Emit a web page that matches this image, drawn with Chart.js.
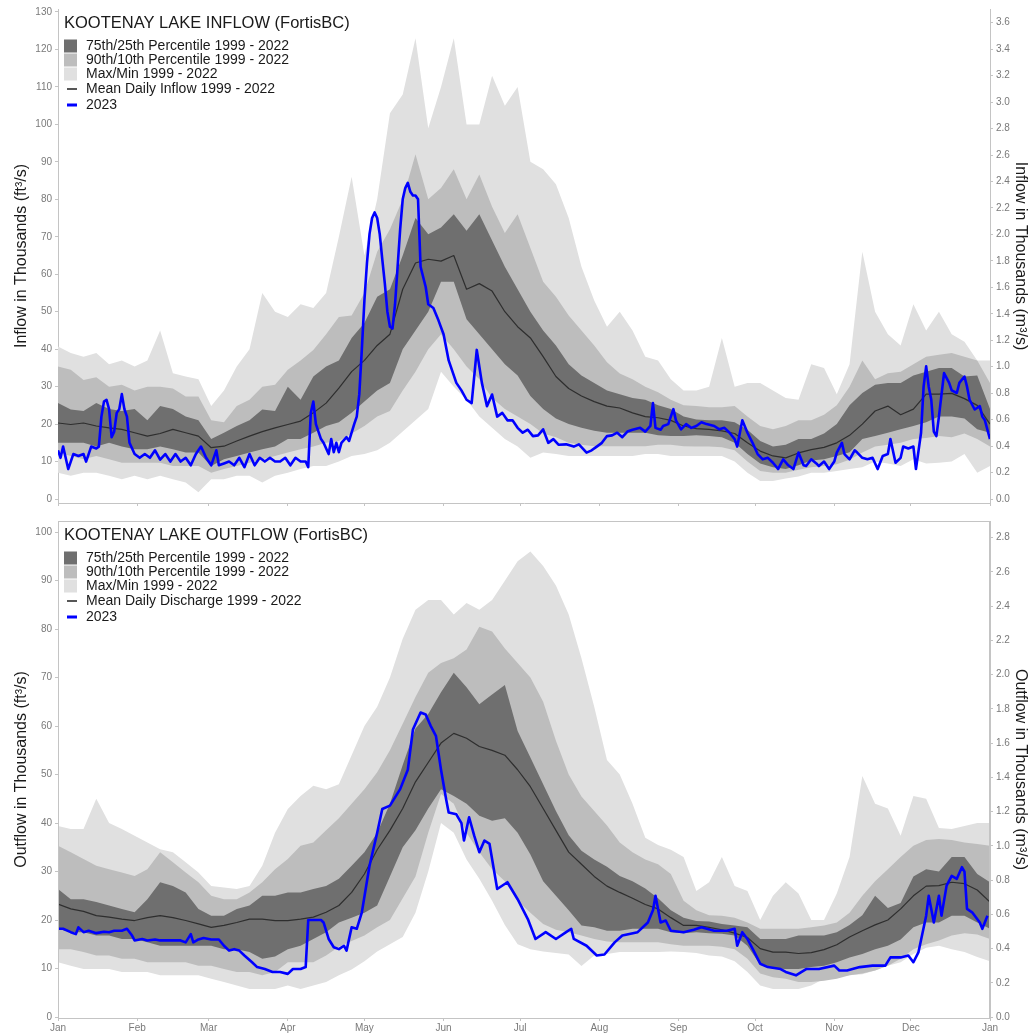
<!DOCTYPE html>
<html><head><meta charset="utf-8">
<script src="https://cdn.jsdelivr.net/npm/chart.js@4.4.0/dist/chart.umd.min.js"></script>
<style>
html,body{margin:0;padding:0;background:#fff;width:1034px;height:1035px;overflow:hidden;}
#c1{position:absolute;left:0;top:0;}
#c2{position:absolute;left:0;top:512px;}
</style></head><body>
<canvas id="c1" width="1034" height="512"></canvas>
<canvas id="c2" width="1034" height="523"></canvas>
<script>
// ---------- categories / ticks ----------
const monthStarts = [0,31,59,90,120,151,181,212,243,273,304,334,365];
const monthLabels = ['Jan','Feb','Mar','Apr','May','Jun','Jul','Aug','Sep','Oct','Nov','Dec','Jan'];
const inflowLeftTicks = [0,10,20,30,40,50,60,70,80,90,100,110,120,130];
const inflowRightTicks = [0,0.2,0.4,0.6,0.8,1.0,1.2,1.4,1.6,1.8,2.0,2.2,2.4,2.6,2.8,3.0,3.2,3.4,3.6];
const outflowLeftTicks = [0,10,20,30,40,50,60,70,80,90,100];
const outflowRightTicks = [0,0.2,0.4,0.6,0.8,1.0,1.2,1.4,1.6,1.8,2.0,2.2,2.4,2.6,2.8];
const legendNames = ['75th/25th Percentile 1999 - 2022','90th/10th Percentile 1999 - 2022','Max/Min 1999 - 2022'];
const inflowMeanName = 'Mean Daily Inflow 1999 - 2022';
const outflowMeanName = 'Mean Daily Discharge 1999 - 2022';
const yearName = '2023';

// day-of-year sample positions for the historical bands
const bandDays = [0,5,10,15,20,25,30,35,40,45,50,55,60,65,70,75,80,85,90,95,100,105,110,115,120,125,130,135,140,145,150,155,160,165,170,175,180,185,190,195,200,205,210,215,220,225,230,235,240,245,250,255,260,265,270,275,280,285,290,295,300,305,310,315,320,325,330,335,340,345,350,355,360,365];

// ---------- INFLOW (thousands ft3/s) ----------
const inMax = [40.7,39,38,39,36,37,35.4,37,45,33.6, 32.7,32,24.8,29,35.4,40,55,50,48.6,52, 51,55,70,86,65,80,103,108,123,99, 110,123,100,100,113,105,110,90,88,84, 75,62,53,46,50,45,38,37,32,29, 29,30,43,30,31,31,29,27,26.5,36, 35,28,36,66,50,44,41,52,45,50, 44,42,37,37];
const inP90 = [35.4,34.5,31.8,32.5,30,30.5,29,30,30,29.5, 27.4,27.4,21,20.5,24.8,26.5,30,30.5,34.5,37, 39.8,44,48.6,49,55,66,72,80,92,80, 83,88,80,86.6,78,71,76,67,58,54, 49,45,41,36.5,33.5,32,30,28.5,26.5,25, 24.8,24.5,24.5,24.8,22,19.5,18.6,19.5,21,21, 22.5,25,30,37,32,33.6,34,36,38,38.5, 39,38,37,31];
const inP75 = [25.6,23.9,23.5,25.6,24,23.5,24,21,24.8,24, 22,21,16,17.7,19.5,21,23.9,23.5,30,26.5, 32.7,35.4,37,43,47,54,56,65,75,70.7, 72.5,76,71.6,76,69,62,56,50,45,41, 36,33,31,29,28,27,26.5,25,24,22, 21.2,21,21,20.5,18.5,15.5,14,14.5,16,16, 17.5,20,25,28.3,30.5,31,31,33,34,35, 35,32.7,33,24];
const inMean = [20.3,19.9,20.3,19.5,19,18.6,17.7,16.8,17.5,18.6, 17.7,16.8,13.7,14.1,15.5,16.8,18,19,19.9,20.8, 23,25.6,29.6,34,37,41,44,56,63,64, 63.5,65,56,57.5,55.5,50,46,43,38,32.7, 29.5,27.5,26,24.8,24.3,23,22,21.7,21,19.5, 18.8,18.6,18.2,17.5,15,12.8,11.5,11,12.3,13.2, 13.8,15,17,20,23.5,24.8,22.5,24,28,28, 28.2,26.8,25,20];
const inP25 = [15,15,15,14,15,14,13.3,13.3,14,13.3, 12.4,12.4,8.8,10.6,11.5,12.4,13.3,14,16,16, 17.7,19.5,20.5,23,26,29,31,40,45,50, 58,58,48,44,40,36,33,27.5,24,21.5, 20,19,18.2,17.7,17.7,17.7,17.7,17,16.8,16.8, 17,16.8,16.5,15,12,9.5,8.5,8,9,10.3, 10.6,11.5,12.5,16,16.8,17.7,18.6,19.5,20.5,22, 22,21.5,18.6,17.7];
const inP10 = [12.4,11.5,10.6,11.5,10.6,9.7,9.7,9.7,9.7,8.8, 8.8,8.8,7,8,8.8,9.7,10.6,11.5,12.4,13.3, 14,15,15.5,17.5,19.5,22,23.5,29,34,40, 44,40,35.4,32,27,24,22,20,17.5,16.5, 15,14.5,14.1,14.1,14.1,14.1,14.1,14.5,14.5,14.1, 14,14,13.8,13,10,7.5,7,7,7.8,8.5, 8.8,9.3,10.5,12.4,14,14.5,15,16,16.3,16.8, 16.5,17.5,16,14];
const inMin = [7,6.2,7,7,6.2,5.3,6.2,5.3,6.2,5.3, 4.4,1.8,5.3,5.3,6.2,6.2,4.4,6.2,7,8, 8.8,8.8,10,11.5,12,13,15,18,21,24, 34,30,26.5,22,19,16,14,11,12.4,12, 11.5,11.5,11.5,11.5,11.5,11.5,12,12,11.5,11.5, 11.5,11.5,11.5,10,7,4.8,4.8,5.5,6,7, 7,7.5,8,8.5,10,9.5,8.8,10.6,9.5,9.7, 10,12,7,8.8];
const inDays2023 = [0,1,2,4,6,8,10,11,13,15,16,17,18,19,20,21,22,23,24,25,26,27,28,30,32,34,36,38,40,42,44,46,48,50,52,54,56,58,60,62,63,65,67,69,71,73,75,77,79,81,83,85,87,89,91,93,95,97,98,99,100,101,102,103,104,106,107,108,109,110,111,113,114,116,117,118,119,120,121,122,123,124,125,126,127,128,129,130,131,132,133,134,135,136,137,138,139,140,141,142,144,145,147,149,151,153,156,158,160,162,164,166,168,170,172,174,176,178,180,182,184,186,188,190,192,194,196,199,202,204,207,209,211,213,215,217,219,221,223,225,228,230,232,233,234,236,237,239,241,242,244,246,248,250,252,254,257,259,261,263,265,266,268,270,272,274,276,278,280,282,284,286,288,290,292,293,295,297,298,300,302,304,305,307,308,310,312,313,315,317,319,321,323,325,326,328,330,331,333,335,336,338,339,340,341,342,343,344,345,347,349,350,352,353,355,356,357,359,361,362,363,365];
const in2023 = [13,11,14,8,12,11.5,12,10,14,13.5,14,22,26,26.5,24,16.5,18,23,24,28,24,22,15,12,11,12,11,13,10.5,12,10,12,10,11,9,12,14,11,9,13,9,9.5,10,9,11,8.5,12,9,11,10,11,10,10,11,9,11,10,10,8.5,23,26,20,18,16,15,12,16,12.5,15,12.5,15,16.5,15.5,20,22,28,40,53,63,70.7,75,76.5,75,70.7,64,57.5,50,46,45.5,52,62,72,80,83,84.4,82,81,81,80,62,56.6,52,51,47.7,44,37,31,29,26.5,25.6,39.8,31,24.8,27.9,22,23,21,21,19,17.7,18.5,16.8,17,18.6,15,16,14.5,14.6,14,14.6,12.4,13,14,15,16.8,17,17.7,16.5,18,18.5,19,18,19.5,25.6,19,18.5,19.5,20,24,21,18.6,20,19,19.5,20.5,20,19.5,18.6,19,17.7,16,14,21,17.7,15,12,10.6,11,9.7,8,10.6,9,8,12.4,9,8.8,10.6,9.5,8.8,10,8,10,12.4,15,12,10.6,13,12.4,11,10.6,11,8,11.5,12,16,9.7,11,14,13.5,14,8,17.7,30,35.4,30,26.5,18,16.8,22,33.6,31,29,28.3,31,32.7,30,26.5,23.9,24.8,22,21,16];

// ---------- OUTFLOW (thousands ft3/s) ----------
const outMax = [39.4,38.8,38.8,45,40,38.8,37.4,36,34.6,34, 31.9,29.8,27,26.7,26.4,27,31.2,38,42.9,45.6, 47.7,47,48,54,60,64,70,78,84,86, 86,83,85.4,84,86,90,94,96,93,89, 83,74,64,53,50,44,37,35.5,34.5,33, 26,27.8,33,27,26,20,25,27.8,25.5,20, 20,25.5,33,49.7,44,43,37.4,45.6,45,39, 38.8,39.4,40,40];
const outP90 = [35.3,34,32.6,31.2,30.5,29.8,29.1,30.5,34,31.9, 29.8,27.8,25,24.3,24.3,25.7,27.8,30.5,32.6,35.3, 36,38.5,41,44,47,50.5,55,60.5,66,71, 73,74,75.8,80.5,79.5,76,73,70,65,57, 50,45.5,42.5,39.5,36,34,32.5,31.5,29.5,24, 22,21,20.9,20.5,19.5,18.2,18.2,18.2,18.2,18.5, 18.9,19.5,21.5,25,28,30.5,33,35.3,36.5,36.7, 36.5,36,35.7,35.3];
const outP75 = [26.4,24.3,24.3,23.7,23,22.3,21.6,24.3,27.8,27, 25.7,22.3,20.9,20.9,22.3,23,25,25,25.7,25.7, 26.4,27,28.5,31.2,34,38,44,52,59.5,62.5, 67,71,68,64.5,66.5,68.5,59,53.5,48,42.5, 37.5,34.3,32.5,31,29.1,28,26.5,24.5,22,20.5, 19.8,19.7,19.2,18.9,18.5,16.1,16.1,16.1,16.8,16.8, 16.8,17.5,19,21,25,22.5,23.5,29,30.5,30, 33,33,29.5,27.8];
const outMean = [23.3,22.3,21.8,20.9,20.6,20.2,19.9,20.5,20.9,20.5, 19.9,19.2,18.5,18.9,19.5,20.2,20.2,19.9,19.9,20.2, 20.6,21.6,23,25.7,29.5,34.5,38.5,43,48.5,52.5, 56.5,58.5,57.5,55.8,55,54,51,47.5,43,38.5, 34,31.5,29,27,25.7,24.5,23.2,22.3,20.5,18.9, 18.9,18.5,18,17.3,16.4,14.1,13.4,13.4,13.1,13.3, 13.9,14.9,16.5,17.8,19,20,22.3,25,27,27.1, 27.8,27.5,26.2,23.7];
const outP25 = [18.2,17.5,17.5,16.8,16.8,16.1,16.1,15.4,14.7,14.7, 14.7,14.7,14.7,14,14,13.4,12,12.5,14,14.7, 16.1,17.5,19.5,20.5,21.5,23,29,35,38.5,43, 47,45.6,44,41.5,40.5,41,38,33.5,28,25, 22,18.9,18.5,17.8,17.8,18.2,18.2,18.2,17.5,17.3, 17.5,17.3,17.2,16.8,14.7,10.8,10,9.9,9.9,10.3, 10.6,11.3,12.3,13,14,14.7,16,18.5,19.5,19.5, 20.9,20.9,19.5,18.2];
const outP10 = [14,14,13.4,12.7,12.7,12,12,11.3,11.3,11.3, 11.3,10.6,10.6,9.9,9.3,9.3,8.6,9.3,11.3,11.3, 11.3,12.7,14.5,15.7,16.8,18.5,20,24.5,29,38, 46,44,38,34,30.5,28,24,21.5,19.2,18, 17.5,16.8,16.1,15.6,15.4,15.4,15.4,15.4,15,14.7, 14.7,14.7,14.5,14,12,9,8.2,7.9,7.2,7.2, 7.5,7.9,8.6,9,9.6,10.6,12,14,15,15.8, 16.8,17.3,17,16.1];
const outMin = [11.3,10.6,9.9,9.9,9.9,9.3,9.3,9.3,8.6,8.6, 8.6,8.6,7.9,7.2,6.5,5.8,5.8,5.8,6.5,5.8, 6.5,7.2,8.6,9.8,11.5,13.5,15,16.5,21.5,30, 40,38,32.5,28.5,24,19,15,14,13.5,13.2, 12.9,10.5,12.7,13,13.4,13.4,13.4,13.4,13.5,13.4, 13.2,12.7,12.5,11.5,9.3,6.5,5.8,5.8,5.8,6.5, 7.9,8.2,8.6,8.8,9.6,10.6,11.3,13,14.3,14.7, 14,13.4,12.4,11.5];
const outDays2023 = [0,2,5,7,8,10,12,15,18,20,22,25,27,29,30,33,35,38,40,43,45,48,50,52,53,55,57,60,63,65,67,69,71,73,76,78,81,84,87,90,92,95,97,98,99,103,104,106,108,110,112,113,115,117,119,122,125,127,130,134,137,139,142,144,146,148,150,152,153,156,158,159,161,163,165,167,169,172,176,180,184,187,191,195,199,201,202,207,211,214,218,221,227,231,233,234,236,238,240,245,249,252,257,262,265,266,268,270,272,275,278,283,285,289,293,298,304,306,309,314,319,324,326,330,333,335,337,340,341,343,345,346,348,350,352,354,355,356,358,361,362,364];
const out2023 = [18.2,18.2,17.5,17.1,18.5,17.5,17.8,17.3,17.6,17.5,17.8,17.8,18.2,16.8,15.8,16.1,15.8,16,15.8,15.8,15.8,15.8,15.4,17.1,15.4,16,16.3,16,16,14.7,13.7,14,13.7,12.7,11.3,10.3,9.9,9.3,9.3,8.9,9.9,9.9,10.3,20,20,20,19.5,16.1,14.4,14,14.7,13.7,18.5,18.2,21.6,31.2,38,42.9,43.6,47,51,59.3,62.8,62.4,60,58,51,44.9,42.2,41.8,40,36.4,41.2,37.4,34,36.4,35.7,26.4,27.8,24.3,20.2,16.1,17.5,16.1,17.5,18.2,16.1,14.7,12.7,12.9,15.4,16.8,17.5,19.5,22,25,19.5,19.9,17.8,17.5,18,18.5,17.8,17.8,18.2,14.7,17.5,16.1,14.1,11,10.3,9.9,9.3,8.6,9.9,9.9,10.6,9.6,9.6,10.3,10.6,10.6,12.3,12.3,12.7,11.3,13.4,20.9,25,19.5,25,20.9,27.1,29.1,28.5,30.9,30,22.3,21.6,19.5,18.2,20.9];

// ---------- styling ----------
const FT3_TO_M3 = 0.0283168;
const FONT = '"Liberation Sans", Arial, Helvetica, sans-serif';
const C_MAXMIN = '#e0e0e0';
const C_9010 = '#bdbdbd';
const C_7525 = '#6f6f6f';
const C_MEAN = '#2e2e2e';
const C_2023 = '#0000ff';
const AXIS_C = '#c4c4c4';
const TICK_C = '#7a7a7a';

Chart.defaults.font.family = FONT;
Chart.defaults.devicePixelRatio = 1;

function xy(days, vals) { return days.map((d, i) => ({ x: d, y: vals[i] })); }

function legendPlugin(title, meanName, boxed) {
  return {
    id: 'customLegend',
    afterDraw(chart) {
      const ctx = chart.ctx, a = chart.chartArea;
      ctx.save();
      if (boxed) {
        ctx.strokeStyle = AXIS_C; ctx.lineWidth = 1;
        ctx.strokeRect(a.left + 0.5, a.top + 0.5, a.right - a.left - 1, a.bottom - a.top);
      }
      const x0 = a.left + 6, top = a.top;
      ctx.fillStyle = '#1a1a1a';
      ctx.textBaseline = 'middle';
      ctx.textAlign = 'left';
      ctx.font = '16.5px ' + FONT;
      ctx.fillText(title, x0, top + 14.5);
      ctx.font = '14px ' + FONT;
      const fills = [C_7525, C_9010, C_MAXMIN];
      const rows = [37, 51, 65];
      for (let i = 0; i < 3; i++) {
        ctx.fillStyle = fills[i];
        ctx.fillRect(x0, top + rows[i] - 6.5, 13, 13);
        ctx.fillStyle = '#1a1a1a';
        ctx.fillText(legendNames[i], x0 + 22, top + rows[i] + 0.5);
      }
      ctx.strokeStyle = C_MEAN; ctx.lineWidth = 1.6;
      ctx.beginPath(); ctx.moveTo(x0 + 3, top + 80); ctx.lineTo(x0 + 13, top + 80); ctx.stroke();
      ctx.fillText(meanName, x0 + 22, top + 80.5);
      ctx.strokeStyle = C_2023; ctx.lineWidth = 3;
      ctx.beginPath(); ctx.moveTo(x0 + 3, top + 96); ctx.lineTo(x0 + 13, top + 96); ctx.stroke();
      ctx.fillText(yearName, x0 + 22, top + 96.5);
      ctx.restore();
    }
  };
}

function makeChart(canvasId, cfg) {
  const datasets = [
    { data: xy(bandDays, cfg.max), fill: 1, backgroundColor: C_MAXMIN, borderColor: 'rgba(0,0,0,0)', borderWidth: 0, order: 8 },
    { data: xy(bandDays, cfg.min), fill: false, borderColor: 'rgba(0,0,0,0)', borderWidth: 0, order: 7 },
    { data: xy(bandDays, cfg.p90), fill: 3, backgroundColor: C_9010, borderColor: 'rgba(0,0,0,0)', borderWidth: 0, order: 6 },
    { data: xy(bandDays, cfg.p10), fill: false, borderColor: 'rgba(0,0,0,0)', borderWidth: 0, order: 5 },
    { data: xy(bandDays, cfg.p75), fill: 5, backgroundColor: C_7525, borderColor: 'rgba(0,0,0,0)', borderWidth: 0, order: 4 },
    { data: xy(bandDays, cfg.p25), fill: false, borderColor: 'rgba(0,0,0,0)', borderWidth: 0, order: 3 },
    { data: xy(bandDays, cfg.mean), fill: false, borderColor: C_MEAN, borderWidth: 1.2, order: 2 },
    { data: xy(cfg.days2023, cfg.v2023), fill: false, borderColor: C_2023, borderWidth: 2.6, order: 1 }
  ];
  return new Chart(document.getElementById(canvasId), {
    type: 'line',
    data: { datasets },
    options: {
      responsive: false, animation: false,
      layout: { padding: { left: 8, right: 0, top: cfg.padTop, bottom: 0 } },
      elements: { point: { radius: 0 }, line: { tension: 0, borderJoinStyle: 'round' } },
      plugins: { legend: { display: false }, tooltip: { enabled: false } },
      scales: {
        x: {
          type: 'linear', min: 0, max: 365,
          afterBuildTicks: s => { s.ticks = monthStarts.map(v => ({ value: v })); },
          afterFit: s => { s.height = cfg.xHeight; },
          ticks: { display: cfg.showX, autoSkip: false, maxRotation: 0, color: TICK_C, font: { size: 10 }, padding: 1,
                   callback: (v, i) => monthLabels[i] },
          grid: { drawOnChartArea: false, drawTicks: true, tickLength: 3, color: AXIS_C },
          border: { display: true, color: AXIS_C }
        },
        y: {
          type: 'linear', position: 'left', min: cfg.ymin, max: cfg.ymax,
          afterBuildTicks: s => { s.ticks = cfg.leftTicks.map(v => ({ value: v })); },
          afterFit: s => { s.width = 50; },
          ticks: { color: TICK_C, font: { size: 10 }, padding: 3, callback: v => String(v) },
          grid: { drawOnChartArea: false, drawTicks: true, tickLength: 3, color: AXIS_C },
          border: { display: true, color: AXIS_C },
          title: { display: true, text: cfg.leftTitle, color: '#1a1a1a', font: { size: 16 }, padding: { top: 4, bottom: 4 } }
        },
        y2: {
          type: 'linear', position: 'right', min: cfg.ymin * FT3_TO_M3, max: cfg.ymax * FT3_TO_M3,
          afterBuildTicks: s => { s.ticks = cfg.rightTicks.map(v => ({ value: v })); },
          afterFit: s => { s.width = 44; },
          ticks: { color: TICK_C, font: { size: 10 }, padding: 3, callback: v => Number(v).toFixed(1) },
          grid: { drawOnChartArea: false, drawTicks: true, tickLength: 3, color: AXIS_C },
          border: { display: true, color: AXIS_C },
          title: { display: true, text: cfg.rightTitle, color: '#1a1a1a', font: { size: 16 }, padding: { top: 4, bottom: 4 } }
        }
      }
    },
    plugins: [legendPlugin(cfg.title, cfg.meanName, cfg.boxed)]
  });
}

makeChart('c1', {
  max: inMax, min: inMin, p90: inP90, p10: inP10, p75: inP75, p25: inP25, mean: inMean,
  days2023: inDays2023, v2023: in2023,
  ymin: -1.06, ymax: 130.8, padTop: 7, xHeight: 8, showX: false, boxed: false,
  leftTicks: inflowLeftTicks, rightTicks: inflowRightTicks,
  leftTitle: 'Inflow in Thousands (ft\u00B3/s)', rightTitle: 'Inflow in Thousands (m\u00B3/s)',
  title: 'KOOTENAY LAKE INFLOW (FortisBC)', meanName: inflowMeanName
});

makeChart('c2', {
  max: outMax, min: outMin, p90: outP90, p10: outP10, p75: outP75, p25: outP25, mean: outMean,
  days2023: outDays2023, v2023: out2023,
  ymin: -0.2, ymax: 102.3, padTop: 8, xHeight: 17, showX: true, boxed: true,
  leftTicks: outflowLeftTicks, rightTicks: outflowRightTicks,
  leftTitle: 'Outflow in Thousands (ft\u00B3/s)', rightTitle: 'Outflow in Thousands (m\u00B3/s)',
  title: 'KOOTENAY LAKE OUTFLOW (FortisBC)', meanName: outflowMeanName
});
</script>
</body></html>
